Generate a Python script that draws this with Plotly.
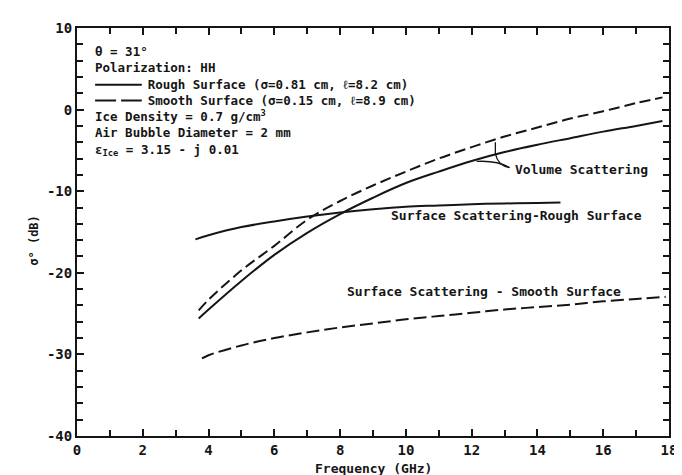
import plotly.graph_objects as go

# ---- data ----
freq_vol = [3.7, 4, 5, 6, 7, 8, 9, 10, 11, 12, 13, 14, 15, 16, 17, 17.8]
vol_rough = [-25.6, -24.5, -21.0, -17.8, -15.1, -12.8, -10.8, -9.0, -7.6, -6.3, -5.2, -4.3, -3.5, -2.7, -2.0, -1.4]
vol_smooth = [-24.6, -23.3, -19.7, -16.7, -13.5, -11.2, -9.3, -7.6, -6.0, -4.6, -3.3, -2.2, -1.1, -0.2, 0.8, 1.5]

freq_surf_rough = [3.6, 4, 5, 6, 7, 8, 9, 10, 11, 12, 13, 14, 14.7]
surf_rough = [-15.9, -15.4, -14.4, -13.7, -13.1, -12.6, -12.2, -11.9, -11.75, -11.6, -11.5, -11.45, -11.4]

freq_surf_smooth = [3.8, 4, 5, 6, 7, 8, 9, 10, 11, 12, 13, 14, 15, 16, 17, 17.9]
surf_smooth = [-30.5, -30.1, -28.9, -28.0, -27.3, -26.7, -26.2, -25.7, -25.3, -24.9, -24.5, -24.2, -23.9, -23.5, -23.2, -22.95]

x_ticks = [0, 2, 4, 6, 8, 10, 12, 14, 16, 18]
y_ticks = [-40, -30, -20, -10, 0, 10]

legend_lines = [
    "θ = 31°",
    "Polarization: HH",
    "\u00a0" * 7 + "Rough Surface (σ=0.81 cm, ℓ=8.2 cm)",
    "\u00a0" * 7 + "Smooth Surface (σ=0.15 cm, ℓ=8.9 cm)",
    "Ice Density = 0.7 g/cm<sup>3</sup>",
    "Air Bubble Diameter = 2 mm",
    "ε<sub>Ice</sub> = 3.15 - j 0.01",
]

FONT = "DejaVu Sans Mono"
INK = "#151515"
WEIGHT = "bold"
DASH = "11px,5px"

fig = go.Figure()
fig.add_trace(go.Scatter(x=freq_vol, y=vol_rough, mode="lines",
                         line=dict(color=INK, width=2, shape="spline"), showlegend=False))
fig.add_trace(go.Scatter(x=freq_vol, y=vol_smooth, mode="lines",
                         line=dict(color=INK, width=2, dash=DASH, shape="spline"), showlegend=False))
fig.add_trace(go.Scatter(x=freq_surf_rough, y=surf_rough, mode="lines",
                         line=dict(color=INK, width=2, shape="spline"), showlegend=False))
fig.add_trace(go.Scatter(x=freq_surf_smooth, y=surf_smooth, mode="lines",
                         line=dict(color=INK, width=2, dash="13px,5px", shape="spline"), showlegend=False))

def txt(x, y, s, anchor="left", size=13):
    fig.add_annotation(x=x, y=y, xref="x", yref="y", text=s, showarrow=False,
                       xanchor=anchor, yanchor="middle",
                       font=dict(family=FONT, size=size, color=INK, weight=WEIGHT))

# legend block (single multi-line text)
fig.add_annotation(x=0.48, y=1.1, xref="x", yref="y", text="<br>".join(legend_lines),
                   showarrow=False, xanchor="left", yanchor="middle", align="left",
                   font=dict(family=FONT, size=12.5, color=INK, weight=WEIGHT))

fig.add_shape(type="line", xref="x", yref="y", x0=0.55, x1=1.97, y0=3.05, y1=3.05,
              line=dict(color=INK, width=2))
fig.add_shape(type="line", xref="x", yref="y", x0=0.55, x1=1.97, y0=1.1, y1=1.1,
              line=dict(color=INK, width=2, dash="21px,5px"))

# curve labels
txt(13.25, -7.3, "Volume Scattering")
txt(9.5, -13.0, "Surface Scattering-Rough Surface")
txt(8.15, -22.3, "Surface Scattering - Smooth Surface")

# bracket for Volume Scattering
fig.add_shape(type="path", xref="x", yref="y",
              path="M 12.72,-4.0 L 12.72,-5.4 Q 12.8,-6.9 13.15,-7.1",
              line=dict(color=INK, width=1.3))
fig.add_shape(type="path", xref="x", yref="y",
              path="M 12.15,-6.35 Q 12.75,-6.2 13.15,-7.1",
              line=dict(color=INK, width=1.3))

axis_common = dict(showgrid=False, zeroline=False, showline=True, linecolor=INK, linewidth=2,
                   mirror="ticks", ticks="inside", ticklen=7, tickwidth=1.5, tickcolor=INK,
                   tickfont=dict(family=FONT, size=14, color=INK, weight=WEIGHT))

fig.update_xaxes(range=[0, 18], tickvals=x_ticks, ticktext=[str(v) for v in x_ticks],
                 minor=dict(dtick=1, ticks="inside", ticklen=6, tickwidth=1.5, tickcolor=INK),
                 **axis_common)
fig.update_yaxes(range=[-40, 10], tickvals=y_ticks, ticktext=[str(v) for v in y_ticks],
                 minor=dict(dtick=2, ticks="inside", ticklen=6, tickwidth=1.5, tickcolor=INK),
                 **axis_common)

fig.add_annotation(xref="paper", yref="paper", x=-0.074, y=0.479, text="σ° (dB)",
                   showarrow=False, textangle=-90, xanchor="center", yanchor="middle",
                   font=dict(family=FONT, size=12, color=INK, weight=WEIGHT))
fig.add_annotation(xref="paper", yref="paper", x=0.5, y=-0.08, text="Frequency (GHz)",
                   showarrow=False, xanchor="center", yanchor="middle",
                   font=dict(family=FONT, size=13, color=INK, weight=WEIGHT))

fig.update_layout(width=682, height=475, margin=dict(l=69, r=21, t=15, b=47),
                  paper_bgcolor="white", plot_bgcolor="white")

fig.write_html("out.html")
